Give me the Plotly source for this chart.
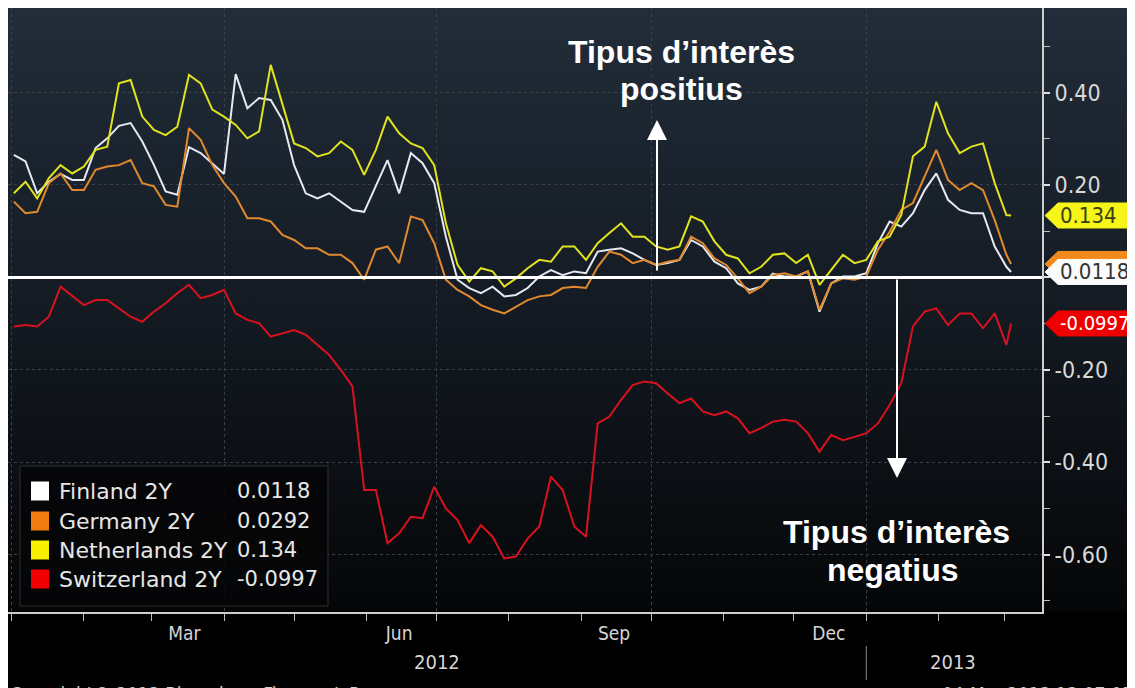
import base64
import pandas as pd
import plotly.graph_objects as go

# ---------------- data ----------------
dates = pd.date_range("2012-01-02", periods=86, freq="5D").strftime("%Y-%m-%d").tolist() + ["2013-03-04"]

finland = [0.265, 0.251, 0.182, 0.207, 0.224, 0.211, 0.211, 0.280, 0.301, 0.328, 0.334, 0.294, 0.243, 0.186, 0.179,
           0.282, 0.269, 0.247, 0.224, 0.440, 0.366, 0.388, 0.384, 0.341, 0.243, 0.182, 0.171, 0.182, 0.164,
           0.146, 0.142, 0.197, 0.254, 0.182, 0.269, 0.247, 0.204, 0.088, -0.005, -0.023, -0.034, -0.020, -0.041, -0.038,
           -0.023, 0.002, 0.016, 0.005, 0.013, 0.009, 0.056, 0.060, 0.063, 0.052, 0.038, 0.027, 0.031, 0.038,
           0.081, 0.067, 0.034, 0.020, -0.013, -0.027, -0.020, 0.008, 0.002, 0.002, 0.013, -0.074, -0.013, 0.002,
           0.002, 0.009, 0.074, 0.121, 0.110, 0.139, 0.189, 0.225, 0.168, 0.146, 0.139, 0.139, 0.067, 0.023,
           0.0118]

germany = [0.164, 0.139, 0.142, 0.204, 0.225, 0.189, 0.189, 0.233, 0.240, 0.243, 0.254, 0.204, 0.197, 0.157, 0.153,
           0.323, 0.298, 0.243, 0.204, 0.175, 0.128, 0.128, 0.121, 0.092, 0.081, 0.063, 0.063, 0.049, 0.049,
           0.031, -0.005, 0.060, 0.067, 0.031, 0.132, 0.124, 0.074, -0.005, -0.027, -0.041, -0.060, -0.070, -0.078,
           -0.063, -0.049, -0.041, -0.038, -0.023, -0.020, -0.023, 0.023, 0.056, 0.049, 0.031, 0.038, 0.027, 0.034, 0.038,
           0.088, 0.074, 0.041, 0.027, -0.002, -0.034, -0.020, 0.005, 0.009, 0.002, 0.013, -0.070, -0.013, -0.002,
           -0.005, 0.002, 0.060, 0.099, 0.146, 0.161, 0.218, 0.276, 0.211, 0.189, 0.204, 0.189, 0.124, 0.049,
           0.0292]

netherlands = [0.182, 0.207, 0.171, 0.215, 0.243, 0.225, 0.240, 0.276, 0.283, 0.420, 0.427, 0.348, 0.319, 0.308, 0.326,
               0.438, 0.420, 0.363, 0.348, 0.330, 0.301, 0.316, 0.460, 0.373, 0.290, 0.280, 0.262, 0.269, 0.294,
               0.276, 0.222, 0.276, 0.348, 0.312, 0.290, 0.280, 0.243, 0.117, 0.027, -0.009, 0.020, 0.013, -0.020, -0.002,
               0.020, 0.038, 0.034, 0.067, 0.067, 0.038, 0.074, 0.096, 0.117, 0.088, 0.088, 0.067, 0.060, 0.067,
               0.132, 0.121, 0.078, 0.049, 0.041, 0.009, 0.023, 0.049, 0.052, 0.031, 0.049, -0.016, 0.016, 0.049,
               0.031, 0.038, 0.078, 0.088, 0.135, 0.262, 0.283, 0.380, 0.312, 0.269, 0.283, 0.290, 0.204, 0.135,
               0.134]

switzerland = [-0.106, -0.103, -0.106, -0.085, -0.020, -0.041, -0.060, -0.049, -0.049, -0.067, -0.085, -0.096, -0.074,
               -0.056, -0.034, -0.016, -0.045, -0.038, -0.027, -0.078, -0.092, -0.099, -0.128, -0.121, -0.114, -0.124,
               -0.146, -0.168, -0.200,
               -0.236, -0.460, -0.460, -0.575, -0.554, -0.518, -0.521, -0.453, -0.500, -0.525, -0.575, -0.536, -0.561,
               -0.608, -0.604, -0.565, -0.539, -0.431, -0.460, -0.539, -0.561, -0.316, -0.301, -0.265, -0.233, -0.225,
               -0.229, -0.251, -0.272,
               -0.262, -0.290, -0.298, -0.290, -0.305, -0.337, -0.326, -0.312, -0.308, -0.312, -0.337, -0.377, -0.341,
               -0.352, -0.345, -0.337, -0.316, -0.276, -0.229, -0.106, -0.074, -0.067, -0.103, -0.078, -0.078, -0.110,
               -0.078, -0.146,
               -0.0997]

series_names = ["Finland 2Y", "Germany 2Y", "Netherlands 2Y", "Switzerland 2Y"]
last_values = ["0.0118", "0.0292", "0.134", "-0.0997"]

y_tickvals = [0.4, 0.2, 0.0, -0.2, -0.4, -0.6]
y_ticktext = ["0.40", "0.20", "", "-0.20", "-0.40", "-0.60"]   # 0.00 is hidden behind the value tags
y_minor_ticks = [0.5, 0.3, 0.1, -0.1, -0.3, -0.5, -0.7]
month_ticks = ["2012-03-15", "2012-06-15", "2012-09-15", "2012-12-16"]
month_labels = ["Mar", "Jun", "Sep", "Dec"]
year_pos = ["2012-07-01", "2013-02-07"]
year_labels = ["2012", "2013"]
year_break = "2013-01-01"

# ---------------- style ----------------
series_values = [finland, germany, netherlands, switzerland]
line_colors = ["#e4e9f2", "#e2892e", "#e0e31e", "#d8121f"]
swatch_colors = ["#ffffff", "#f07c10", "#f7f000", "#f00000"]
tag_fill = ["#fbfbfb", "#f08a1c", "#f5f51a", "#ee0000"]
tag_text = ["#333333", "#333333", "#3b3b10", "#ffffff"]
tag_font_size = [22, 22, 22, 20]

X_RANGE = ["2011-12-30 12:00", "2013-03-17 06:00"]
Y_RANGE = [-0.724, 0.583]
W, H = 1127, 680
ML, MR, MT, MB = 0, 93, 0, 76
PW, PH = W - ML - MR, H - MT - MB

TICK_FONT = "DejaVu Sans Condensed, Liberation Sans Narrow, sans-serif"
LEG_FONT = "DejaVu Sans, Verdana, sans-serif"
BOLD_FONT = "Liberation Sans, Arial, sans-serif"


def px_x(p):   # page pixel (x) -> paper coordinate
    return (p - 8) / PW


def px_y(p):   # page pixel (y) -> paper coordinate
    return (612 - p) / PH


def val_to_paper(v):
    return (v - Y_RANGE[0]) / (Y_RANGE[1] - Y_RANGE[0])


svg = ("<svg xmlns='http://www.w3.org/2000/svg' width='100' height='100' preserveAspectRatio='none'>"
       "<defs><linearGradient id='g' x1='0' y1='0' x2='0' y2='1'>"
       "<stop offset='0' stop-color='#212d39'/>"
       "<stop offset='0.38' stop-color='#161d26'/>"
       "<stop offset='0.65' stop-color='#0d1116'/>"
       "<stop offset='0.885' stop-color='#050607'/>"
       "<stop offset='0.89' stop-color='#000000'/>"
       "<stop offset='1' stop-color='#000000'/>"
       "</linearGradient></defs><rect width='100' height='100' fill='url(#g)'/></svg>")
bg_uri = "data:image/svg+xml;base64," + base64.b64encode(svg.encode()).decode()

fig = go.Figure()

for name, vals, col in zip(series_names, series_values, line_colors):
    fig.add_trace(go.Scatter(x=dates, y=vals, mode="lines", name=name,
                             line=dict(color=col, width=2), hoverinfo="x+y+name"))

# invisible helper trace so that the label axis is drawn
fig.add_trace(go.Scatter(x=dates, y=finland, xaxis="x2", yaxis="y", mode="lines",
                         line=dict(color="rgba(0,0,0,0)", width=0), hoverinfo="skip", showlegend=False))

shapes = []
annotations = []

# zero line on top of the series
shapes.append(dict(type="line", xref="x", yref="y", x0=X_RANGE[0], x1=X_RANGE[1], y0=0, y1=0,
                   line=dict(color="white", width=3), layer="above"))

# legend box
shapes.append(dict(type="rect", xref="paper", yref="paper", x0=px_x(20), x1=px_x(328), y0=px_y(606), y1=px_y(466),
                   fillcolor="rgba(6,6,7,0.88)", line=dict(color="#2c2f33", width=1), layer="above"))
row_y = [491, 521, 550, 579]
for i, (name, val, sw) in enumerate(zip(series_names, last_values, swatch_colors)):
    yc = px_y(row_y[i])
    shapes.append(dict(type="rect", xref="paper", yref="paper", x0=px_x(31), x1=px_x(49),
                       y0=yc - 9.5 / PH, y1=yc + 9.5 / PH, fillcolor=sw, line=dict(width=0), layer="above"))
    annotations.append(dict(text=name, xref="paper", yref="paper", x=px_x(57), y=yc, xanchor="left",
                            yanchor="middle", showarrow=False, font=dict(family=LEG_FONT, size=22, color="#e6e6e6")))
    annotations.append(dict(text=val, xref="paper", yref="paper", x=px_x(235), y=yc, xanchor="left",
                            yanchor="middle", showarrow=False, font=dict(family=LEG_FONT, size=21, color="#e6e6e6")))

# value tags on the right axis (Germany tag is drawn first and hidden behind Finland's)
tag_order = [1, 0, 2, 3]
for i in tag_order:
    v = series_values[i][-1]
    yc = val_to_paper(v)
    h = 12.5 / PH
    xt, xb, xe = px_x(1045), px_x(1058), px_x(1140)
    path = f"M {xt},{yc} L {xb},{yc + h} L {xe},{yc + h} L {xe},{yc - h} L {xb},{yc - h} Z"
    shapes.append(dict(type="path", xref="paper", yref="paper", path=path, fillcolor=tag_fill[i],
                       line=dict(color=tag_fill[i], width=1), layer="above"))
    if i != 1:
        annotations.append(dict(text=last_values[i], xref="paper", yref="paper", x=px_x(1058), y=yc,
                                xanchor="left", yanchor="middle", showarrow=False,
                                font=dict(family=TICK_FONT, size=tag_font_size[i], color=tag_text[i])))

# year labels and separator
for pos, lab in zip(year_pos, year_labels):
    annotations.append(dict(text=lab, xref="x", yref="paper", x=pos, y=px_y(662), showarrow=False,
                            xanchor="center", yanchor="middle",
                            font=dict(family=TICK_FONT, size=20, color="#d6d6d6")))
shapes.append(dict(type="line", xref="x", yref="paper", x0=year_break, x1=year_break, y0=px_y(646), y1=px_y(680),
                   line=dict(color="#8a8a8a", width=1)))

# explanatory texts and arrows
for txt, xp, yp in [("Tipus d’interès", 681, 52), ("positius", 681, 89),
                    ("Tipus d’interès", 896, 532), ("negatius", 893, 570)]:
    annotations.append(dict(text=f"<b>{txt}</b>", xref="paper", yref="paper", x=px_x(xp), y=px_y(yp),
                            showarrow=False, xanchor="center", yanchor="middle",
                            font=dict(family=BOLD_FONT, size=32, color="white")))
annotations.append(dict(text="", xref="paper", yref="paper", x=px_x(657), y=px_y(120), ax=0, ay=152,
                        showarrow=True, arrowhead=2, arrowsize=2, arrowwidth=2, arrowcolor="white"))
annotations.append(dict(text="", xref="paper", yref="paper", x=px_x(897), y=px_y(478), ax=0, ay=-200,
                        showarrow=True, arrowhead=2, arrowsize=2, arrowwidth=2, arrowcolor="white"))

# footer (cut by the frame edge, as in the reference)
annotations.append(dict(text="Copyright© 2013 Bloomberg Finance L.P.", xref="paper", yref="paper",
                        x=px_x(8), y=px_y(694), xanchor="left", yanchor="middle", showarrow=False,
                        font=dict(family=TICK_FONT, size=19, color="#cfcfcf")))
annotations.append(dict(text="04-Mar-2013 13:07:05", xref="paper", yref="paper",
                        x=px_x(1135), y=px_y(694), xanchor="right", yanchor="middle", showarrow=False,
                        font=dict(family=TICK_FONT, size=19, color="#cfcfcf")))

fig.update_layout(
    template="none",
    width=W, height=H,
    margin=dict(l=ML, r=MR, t=MT, b=MB, pad=0),
    paper_bgcolor="#000000",
    plot_bgcolor="rgba(0,0,0,0)",
    showlegend=False,
    images=[dict(source=bg_uri, xref="paper", yref="paper", x=0, y=1, sizex=W / PW, sizey=H / PH,
                 xanchor="left", yanchor="top", sizing="stretch", layer="below")],
    xaxis=dict(type="date", range=X_RANGE, tick0="2012-01-01", dtick="M3", showticklabels=False,
               ticks="outside", ticklen=7, tickwidth=1, tickcolor="#bdbdbd",
               showgrid=True, gridcolor="#3a4049", griddash="dot", gridwidth=1,
               showline=True, linecolor="#cfcfcf", linewidth=2, zeroline=False, automargin=False,
               minor=dict(dtick="M1", tick0="2012-01-01", ticks="outside", ticklen=7, tickcolor="#bdbdbd",
                          showgrid=False)),
    xaxis2=dict(type="date", range=X_RANGE, overlaying="x", anchor="y", side="bottom",
                tickmode="array", tickvals=month_ticks, ticktext=month_labels, ticks="",
                showgrid=False, showline=False, zeroline=False, automargin=False, ticklabelstandoff=8,
                tickfont=dict(family=TICK_FONT, size=19, color="#d6d6d6")),
    yaxis=dict(range=Y_RANGE, side="right", tickmode="array", tickvals=y_tickvals, ticktext=y_ticktext,
               ticks="outside", ticklen=6, tickwidth=2, tickcolor="#e0e0e0",
               showline=True, linecolor="#cfcfcf", linewidth=2, showgrid=True, gridcolor="#3a4049",
               griddash="dot", gridwidth=1, zeroline=False, automargin=False,
               tickfont=dict(family=TICK_FONT, size=23, color="#d9d9d9"),
               minor=dict(tickvals=y_minor_ticks, ticks="outside", ticklen=6, tickwidth=1,
                          tickcolor="#bdbdbd", showgrid=False)),
    shapes=shapes,
    annotations=annotations,
)

fig.write_html("out.html")
